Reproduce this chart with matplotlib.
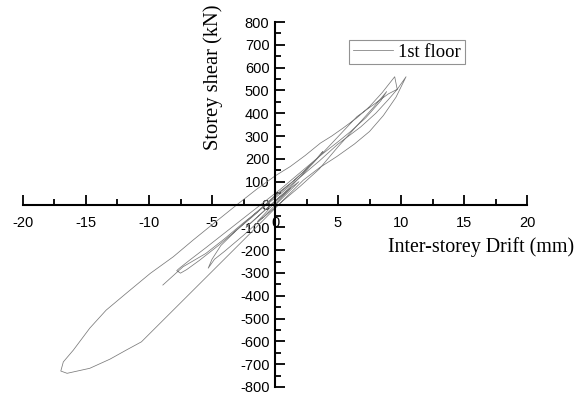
import matplotlib
matplotlib.use("Agg")
import matplotlib.pyplot as plt
from matplotlib.ticker import MultipleLocator

plt.rcParams['axes.unicode_minus'] = False

# ---- data (drift mm, shear kN) ----
small_drift = [0, 0.6, 1.2, 0.7, 0.0, -0.8, -1.4, -0.9, -0.2, 0.9, 1.9, 1.3, 0.3, -1.0, -2.3]
small_shear = [0, 35, 70, 45, 10, -40, -75, -55, -15, 45, 100, 75, 30, -35, -100]

cyc2_drift = [-1.2, 0.0, 1.2, 2.5, 3.8, 3.3, 2.2, 1.0, 0.0, -1.5, -3.0, -4.3, -5.0, -5.3]
cyc2_shear = [-45, 15, 75, 150, 232, 200, 140, 80, 35, -35, -110, -180, -240, -279]

cyc3_drift = [-4.8, -4.0, -2.5, -1.0, 0.5, 2.0, 3.5, 5.0, 6.5, 7.8, 8.86,
              8.4, 7.2, 6.0, 5.0, 3.5, 2.0, 0.5, -1.0, -2.5, -4.0, -5.5, -6.8, -7.6, -7.8, -7.5]
cyc3_shear = [-240, -205, -135, -60, 10, 80, 155, 253, 345, 425, 495,
              455, 380, 320, 275, 210, 140, 70, 5, -60, -125, -190, -245, -280, -290, -301]

cyc4_drift = [-7.0, -6.0, -4.5, -3.0, -1.5, 0.0, 1.5, 3.0, 5.0, 6.5, 8.0, 9.0, 9.7, 9.5]
cyc4_shear = [-285, -245, -180, -110, -40, 40, 105, 180, 297, 385, 445, 485, 505, 560]

big_drift = [8.5, 7.5, 6.5, 5.4, 4.5, 3.6, 2.4, 1.2, 0.0, -1.5, -3.0, -4.8, -6.5, -8.07,
             -9.9, -11.8, -13.4, -14.7, -16.0, -16.8, -17.0, -16.5, -14.7, -13.1, -11.8,
             -10.6, -2.5, 0.4, 0.9, 2.25, 3.5, 4.9, 6.3, 7.5, 8.6, 9.6, 10.4]
big_shear = [490, 429, 380, 335, 300, 269, 215, 166, 125, 65, 0, -80, -156, -229,
             -302, -389, -463, -542, -638, -690, -730, -740, -718, -678, -638,
             -602, -156, 5, 33, 107, 160, 210, 265, 320, 390, 470, 560]

last_drift = [9.7, 9.0, 8.0, 6.8, 5.0, 3.5, 2.0, 0.5, -1.0, -2.5, -4.0, -5.5, -7.3, -8.9]
last_shear = [505, 460, 400, 340, 265, 190, 120, 50, -15, -80, -150, -215, -273, -353]

xticks = [-20, -15, -10, -5, 0, 5, 10, 15, 20]
yticks = list(range(-800, 801, 100))
series_label = "1st floor"
xlabel = "Inter-storey Drift (mm)"
ylabel = "Storey shear (kN)"

drift = small_drift + cyc2_drift + cyc3_drift + cyc4_drift + big_drift + last_drift
shear = small_shear + cyc2_shear + cyc3_shear + cyc4_shear + big_shear + last_shear

fig = plt.figure(figsize=(5.81, 3.95), dpi=100)
ax = fig.add_axes([23/581, 1-387/395, (527-23)/581, (387-22)/395])

ax.plot(drift, shear, color="#7a7a7a", lw=0.55, label=series_label)

ax.set_xlim(-20, 20)
ax.set_ylim(-800, 800)
ax.spines['left'].set_position(('data', 0))
ax.spines['bottom'].set_position(('data', 0))
ax.spines['top'].set_visible(False)
ax.spines['right'].set_visible(False)
for s in ('left', 'bottom'):
    ax.spines[s].set_linewidth(1.5)

ax.set_xticks(xticks)
ax.set_yticks(yticks)
ax.xaxis.set_minor_locator(MultipleLocator(2.5))
ax.yaxis.set_minor_locator(MultipleLocator(50))
ax.tick_params(which='both', direction='in', width=1.3)
ax.tick_params(which='major', length=7)
ax.tick_params(which='minor', length=4)
ax.tick_params(axis='x', which='major', pad=8)
ax.tick_params(axis='y', which='major', pad=4)
for lab in ax.get_xticklabels() + ax.get_yticklabels():
    lab.set_fontfamily('Liberation Sans')
    lab.set_fontsize(10.5)

fig.text(388/581, 1-247/395, xlabel, family='Liberation Serif', fontsize=14.4,
         ha='left', va='center')
fig.text(213/581, 1-77/395, ylabel, family='Liberation Serif', fontsize=14.8,
         ha='center', va='center', rotation=90)

leg = ax.legend(loc='upper left', bbox_to_anchor=(349/581, 1-40/395),
                bbox_transform=fig.transFigure, frameon=True, fancybox=False,
                prop={'family': 'Liberation Serif', 'size': 13.4},
                handlelength=2.15, handletextpad=0.3, borderpad=0.2,
                borderaxespad=0)
leg.get_frame().set_edgecolor('#777777')
leg.get_frame().set_linewidth(0.8)

fig.savefig("out.png", dpi=100)
